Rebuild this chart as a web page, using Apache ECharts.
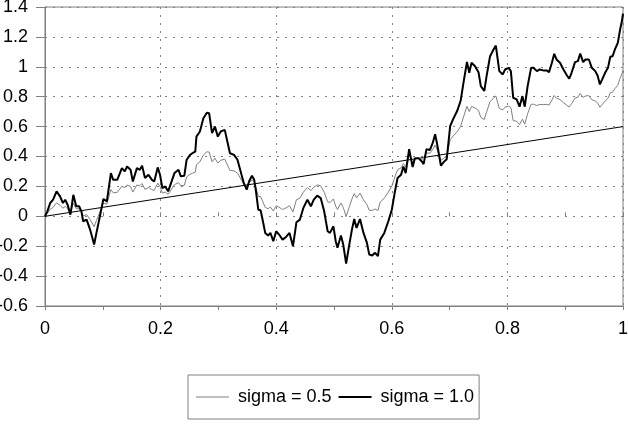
<!DOCTYPE html>
<html>
<head>
<meta charset="utf-8">
<script src="https://cdn.jsdelivr.net/npm/echarts@6/dist/echarts.min.js"></script>
<style>html,body{margin:0;padding:0;background:#fff}#c{width:628px;height:424px}</style>
</head>
<body>
<div id="c"></div>
<script>
var tVals = [0.000,0.004,0.009,0.014,0.020,0.026,0.031,0.035,0.039,0.044,0.049,0.054,0.059,0.063,0.066,0.072,0.078,0.085,0.089,0.095,
0.101,0.107,0.114,0.118,0.125,0.133,0.138,0.142,0.148,0.152,0.159,0.164,0.168,0.173,0.179,0.185,0.189,0.195,0.199,0.203,
0.208,0.213,0.218,0.224,0.231,0.235,0.241,0.245,0.251,0.255,0.260,0.262,0.268,0.274,0.280,0.284,0.289,0.294,0.299,0.304,
0.311,0.314,0.320,0.327,0.333,0.340,0.344,0.349,0.353,0.358,0.362,0.365,0.369,0.373,0.377,0.381,0.386,0.390,0.395,0.400,
0.405,0.411,0.417,0.423,0.429,0.435,0.441,0.447,0.454,0.460,0.465,0.471,0.477,0.483,0.489,0.493,0.499,0.503,0.506,0.512,
0.516,0.521,0.526,0.531,0.535,0.539,0.545,0.551,0.557,0.561,0.566,0.571,0.576,0.580,0.587,0.594,0.600,0.606,0.610,0.616,
0.620,0.624,0.627,0.630,0.636,0.640,0.646,0.652,0.655,0.660,0.666,0.671,0.675,0.679,0.685,0.690,0.695,0.701,0.706,0.713,
0.719,0.724,0.730,0.734,0.738,0.744,0.750,0.754,0.760,0.764,0.770,0.776,0.780,0.786,0.792,0.796,0.802,0.806,0.810,0.816,
0.821,0.826,0.830,0.835,0.841,0.845,0.851,0.856,0.862,0.868,0.872,0.877,0.881,0.885,0.891,0.897,0.903,0.907,0.911,0.917,
0.922,0.926,0.931,0.935,0.941,0.946,0.952,0.956,0.960,0.964,0.969,0.974,0.978,0.982,0.986,0.991,0.995,0.998,1.000];

var sigma10 = [0,0.033,0.089,0.111,0.167,0.133,0.089,0.111,0.078,0.011,0.144,0.067,0.067,0.033,-0.033,-0.022,-0.089,-0.189,-0.111,0,
0.116,0.100,0.289,0.244,0.244,0.322,0.300,0.333,0.311,0.233,0.322,0.311,0.338,0.256,0.278,0.244,0.233,0.327,0.278,0.189,
0.200,0.167,0.222,0.289,0.311,0.267,0.271,0.378,0.411,0.422,0.433,0.533,0.567,0.656,0.693,0.689,0.556,0.600,0.533,0.567,
0.578,0.582,0.422,0.411,0.378,0.278,0.222,0.178,0.233,0.271,0.244,0.167,0.044,0.040,-0.033,-0.111,-0.129,-0.111,-0.167,-0.100,
-0.122,-0.156,-0.138,-0.111,-0.200,-0.040,-0.022,0.056,0.111,0.067,0.111,0.138,0.122,0.033,-0.100,-0.111,-0.067,-0.167,-0.211,-0.129,
-0.189,-0.316,-0.200,-0.089,-0.018,-0.078,-0.018,-0.111,-0.178,-0.256,-0.262,-0.244,-0.267,-0.156,-0.111,-0.033,0.044,0.178,0.256,0.278,
0.333,0.289,0.367,0.449,0.330,0.389,0.389,0.367,0.349,0.449,0.444,0.493,0.549,0.471,0.338,0.364,0.382,0.604,0.649,0.704,
0.771,0.893,1.033,0.960,1.027,1.004,0.964,0.871,0.838,0.938,1.071,1.116,1.142,0.971,0.949,0.982,0.993,0.971,0.793,0.782,
0.733,0.804,0.733,0.871,0.993,0.993,0.971,0.982,0.976,0.976,0.964,1.027,1.087,1.049,1.027,0.982,0.942,0.920,0.960,1.031,
1.038,1.089,1.031,1.049,1.049,0.993,0.971,0.942,0.882,0.916,0.960,0.993,1.067,1.071,1.116,1.160,1.249,1.304,1.356];

var sigma05 = [0,0.018,0.047,0.060,0.090,0.074,0.054,0.066,0.051,0.019,0.087,0.050,0.051,0.035,0.003,0.011,-0.021,-0.069,-0.029,0.029,
0.088,0.082,0.179,0.157,0.160,0.201,0.191,0.209,0.200,0.162,0.209,0.205,0.219,0.180,0.193,0.178,0.173,0.222,0.199,0.155,
0.162,0.147,0.176,0.212,0.225,0.204,0.208,0.263,0.281,0.288,0.295,0.345,0.364,0.410,0.431,0.430,0.365,0.388,0.356,0.375,
0.382,0.385,0.307,0.304,0.289,0.241,0.214,0.194,0.222,0.243,0.231,0.193,0.133,0.132,0.097,0.059,0.051,0.062,0.035,0.070,
0.061,0.045,0.056,0.071,0.029,0.111,0.121,0.162,0.192,0.172,0.195,0.210,0.204,0.161,0.097,0.092,0.116,0.067,0.046,0.089,
0.060,-0.002,0.058,0.115,0.152,0.123,0.155,0.110,0.078,0.040,0.039,0.049,0.039,0.096,0.121,0.162,0.202,0.271,0.311,0.324,
0.353,0.332,0.372,0.414,0.356,0.387,0.388,0.379,0.371,0.423,0.422,0.448,0.477,0.439,0.375,0.389,0.400,0.512,0.536,0.566,
0.601,0.664,0.736,0.700,0.735,0.725,0.707,0.662,0.647,0.698,0.767,0.791,0.805,0.721,0.712,0.730,0.737,0.727,0.640,0.636,
0.613,0.650,0.616,0.686,0.749,0.750,0.741,0.748,0.747,0.748,0.744,0.777,0.808,0.790,0.781,0.760,0.742,0.732,0.753,0.791,
0.796,0.822,0.795,0.805,0.807,0.780,0.771,0.758,0.729,0.747,0.771,0.789,0.827,0.830,0.854,0.877,0.923,0.951,0.978];

var driftT = [0, 1];
var driftV = [0, 0.6];

function pairs(xs, ys) { return xs.map(function (x, i) { return [x, ys[i]]; }); }

var chart = echarts.init(document.getElementById('c'), null, {renderer: 'canvas'});
var gridColor = '#808080';
var font = 'Liberation Sans, Arial, sans-serif';
chart.setOption({
  animation: false,
  backgroundColor: '#fff',
  grid: {left: 45, right: 5, top: 7, bottom: 118, show: true, borderColor: gridColor, borderWidth: 1,
         containLabel: false, outerBoundsMode: 'none'},
  xAxis: [{
    type: 'value', min: 0, max: 1, interval: 0.2,
    axisLine: {show: true, onZero: false, lineStyle: {color: gridColor, width: 1}},
    axisTick: {show: true, length: 4, lineStyle: {color: gridColor}},
    minorTick: {show: true, splitNumber: 2, length: 4, lineStyle: {color: gridColor}},
    axisLabel: {color: '#000', fontSize: 18, fontFamily: font, margin: 14},
    splitLine: {show: true, lineStyle: {color: gridColor, type: [2, 6], width: 1}}
  }, {
    type: 'value', min: 0, max: 1, interval: 0.2, position: 'bottom',
    axisLine: {show: false},
    axisTick: {show: true, inside: true, length: 4, lineStyle: {color: gridColor}},
    minorTick: {show: true, splitNumber: 2, length: 4, lineStyle: {color: gridColor}},
    axisLabel: {show: false},
    splitLine: {show: false}
  }],
  yAxis: {
    type: 'value', min: -0.6, max: 1.4, interval: 0.2,
    axisLine: {show: true, onZero: false, lineStyle: {color: gridColor, width: 1}},
    axisTick: {show: true, length: 9, lineStyle: {color: gridColor}},
    axisLabel: {color: '#000', fontSize: 18, fontFamily: font, margin: 17},
    splitLine: {show: true, lineStyle: {color: gridColor, type: [2, 6], width: 1}}
  },
  legend: {
    data: [
      {name: 'sigma = 0.5', icon: 'path://M0,0L33,0L33,1L0,1Z'},
      {name: 'sigma = 1.0', icon: 'path://M0,0L33,0L33,2L0,2Z'}
    ],
    left: 188, top: 375,
    orient: 'horizontal',
    borderColor: gridColor, borderWidth: 1,
    padding: [13, 5, 13, 8],
    itemWidth: 33, itemHeight: 14, itemGap: 7,
    textStyle: {color: '#000', fontSize: 18, fontFamily: font, padding: [0, 0, 0, 4]}
  },
  series: [{
    name: 'drift', type: 'line', data: pairs(driftT, driftV), symbol: 'none',
    lineStyle: {color: '#000', width: 1}, z: 1
  }, {
    name: 'sigma = 0.5', type: 'line', data: pairs(tVals, sigma05), symbol: 'none',
    color: '#808080', lineStyle: {color: '#808080', width: 1}, z: 2
  }, {
    name: 'sigma = 1.0', type: 'line', data: pairs(tVals, sigma10), symbol: 'none',
    color: '#000', lineStyle: {color: '#000', width: 2}, z: 3
  }]
});
</script>
</body>
</html>
